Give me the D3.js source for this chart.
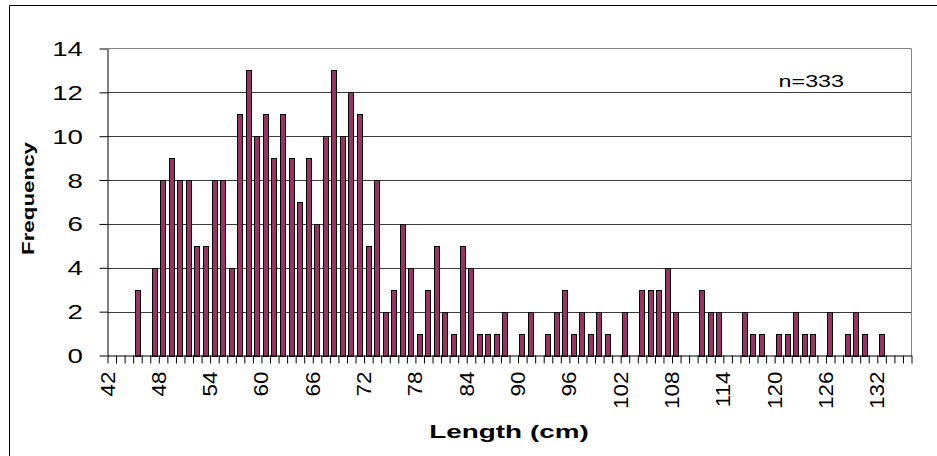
<!DOCTYPE html>
<html>
<head>
<meta charset="utf-8">
<script src="https://cdn.jsdelivr.net/npm/d3@7"></script>
<style>
  html, body { margin: 0; padding: 0; background: #fff; }
  svg { display: block; font-family: "Liberation Sans", Arial, sans-serif; }
</style>
</head>
<body>
<svg id="chart" width="937" height="456"></svg>
<script>
// Length categories (cm), 42..135
const categories = d3.range(42, 136);
// Frequency per length category
const frequency = [
  0,0,0,3,0,4,8,9,8,8,
  5,5,8,8,4,11,13,10,11,9,
  11,9,7,9,6,10,13,10,12,11,
  5,8,2,3,6,4,1,3,5,2,
  1,5,4,1,1,1,2,0,1,2,
  0,1,2,3,1,2,1,2,1,0,
  2,0,3,3,3,4,2,0,0,3,
  2,2,0,0,2,1,1,0,1,1,
  2,1,1,0,2,0,1,2,1,0,
  1,0,0,0
];
const xTickLabels = [42,48,54,60,66,72,78,84,90,96,102,108,114,120,126,132];
const yTickValues = [0,2,4,6,8,10,12,14];
const annotation = "n=333";
const xTitle = "Length (cm)";
const yTitle = "Frequency";

const data = categories.map((c, i) => ({ c, v: frequency[i] }));

const svg = d3.select("#chart");
const L = 107.5, R = 911.5, T = 48.5, B = 355.5;

// outer chart border (left/top visible)
svg.append("path")
  .attr("d", `M9.5,1000 L9.5,5.5 L1000,5.5`)
  .attr("fill", "none").attr("stroke", "#000").attr("stroke-width", 1);

const x = d3.scaleBand().domain(categories).range([L, R])
  .paddingInner(1/3).paddingOuter(1/6);
const xb = d3.scaleLinear().domain([42, 136]).range([L, R]);
const y = d3.scaleLinear().domain([0, 14]).range([B, T]);

// gridlines
svg.append("g").selectAll("line").data(yTickValues.filter(d => d > 0 && d < 14)).join("line")
  .attr("x1", L).attr("x2", R)
  .attr("y1", d => Math.round(y(d)) + 0.5).attr("y2", d => Math.round(y(d)) + 0.5)
  .attr("stroke", "#3a3a3a").attr("stroke-width", 1);

// plot area border (top, right)
svg.append("path")
  .attr("d", `M${L},${T} L${R},${T} L${R},${B}`)
  .attr("fill", "none").attr("stroke", "#858585").attr("stroke-width", 1);

// bars
svg.append("g").selectAll("rect").data(data.filter(d => d.v > 0)).join("rect")
  .attr("x", d => Math.round(x(d.c)) + 0.5)
  .attr("y", d => Math.round(y(d.v)) + 0.5)
  .attr("width", Math.round(x.bandwidth()) - 1)
  .attr("height", d => Math.round(y(0)) - Math.round(y(d.v)))
  .attr("fill", "#993366")
  .attr("stroke", "#000").attr("stroke-width", 1);

// x axis
const xAxis = d3.axisBottom(xb)
  .tickValues(d3.range(42, 137))
  .tickSizeInner(8).tickSizeOuter(0)
  .tickFormat(d => xTickLabels.includes(d) ? String(d) : "");
const gx = svg.append("g").attr("transform", `translate(0,${B})`).call(xAxis);
gx.select(".domain").attr("stroke", "#000");
gx.selectAll(".tick line").attr("stroke", "#000");
gx.selectAll(".tick text")
  .attr("font-size", 21).attr("fill", "#000")
  .attr("text-anchor", "end").attr("dy", null).attr("y", null)
  .attr("transform", "translate(6.5,16) rotate(-90) scale(1.07,1)");

// y axis
const yAxis = d3.axisLeft(y).tickValues(yTickValues).tickSizeInner(8).tickSizeOuter(0);
const gy = svg.append("g").attr("transform", `translate(${L},0)`).call(yAxis);
gy.select(".domain").attr("stroke", "#000");
gy.selectAll(".tick line").attr("stroke", "#000");
gy.selectAll(".tick text")
  .attr("font-size", 19.5).attr("fill", "#000")
  .attr("text-anchor", "end").attr("x", null).attr("dy", null)
  .attr("transform", "translate(-24.5,7) scale(1.42,1)");

// titles
svg.append("text").text(xTitle)
  .attr("font-size", 18.6).attr("font-weight", "bold").attr("text-anchor", "middle")
  .attr("transform", "translate(509,438) scale(1.5,1)");
svg.append("text").text(yTitle)
  .attr("font-size", 17.2).attr("font-weight", "bold").attr("text-anchor", "middle")
  .attr("transform", "translate(34,198.5) rotate(-90) scale(1.3,1)");

// annotation
svg.append("text").text(annotation)
  .attr("font-size", 17).attr("text-anchor", "end")
  .attr("transform", "translate(844,87) scale(1.37,1)");
</script>
</body>
</html>
